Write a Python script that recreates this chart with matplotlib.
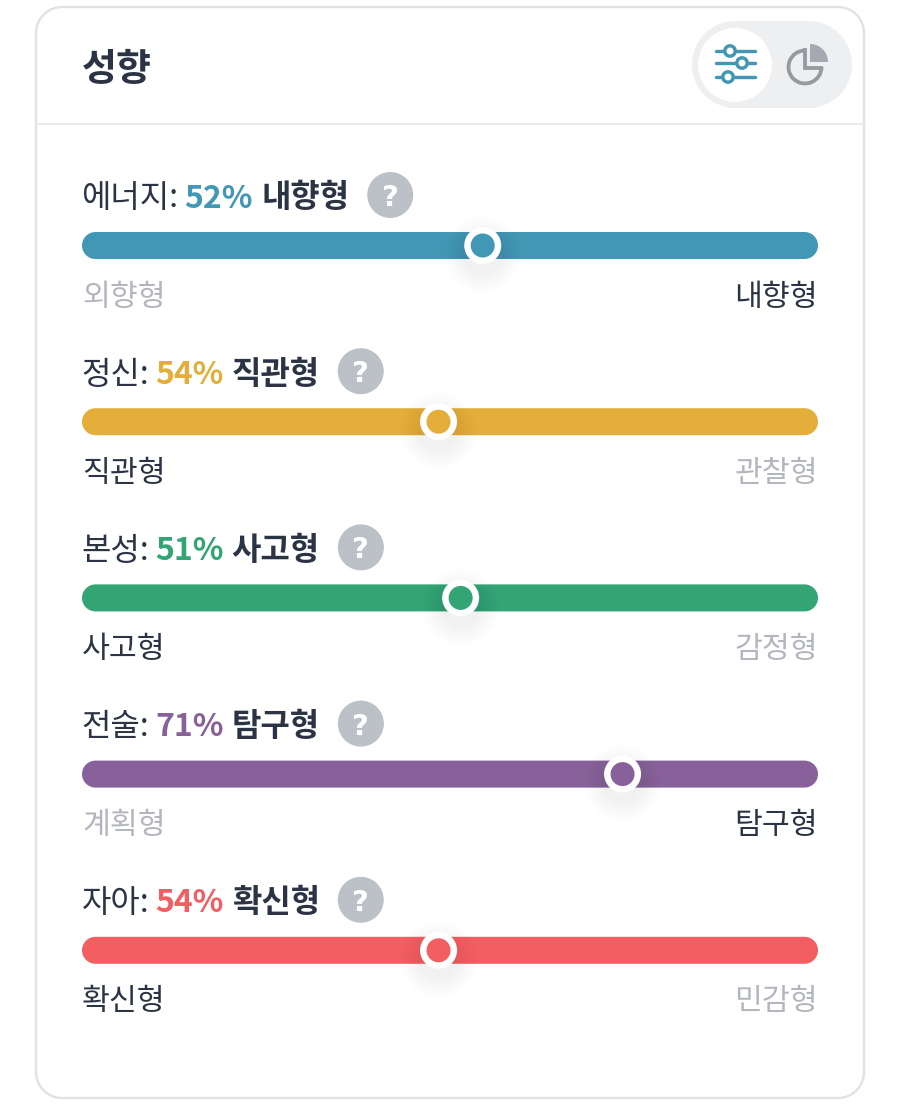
import matplotlib
matplotlib.use('Agg')
import matplotlib.pyplot as plt
import matplotlib.patches as mpatches
from matplotlib.path import Path

plt.rcParams['font.family'] = ['Noto Sans CJK KR', 'DejaVu Sans']

TITLE = '성향'
TRAITS = ['에너지', '정신', '본성', '전술', '자아']
PERCENTS = [52, 54, 51, 71, 54]
RESULTS = ['내향형', '직관형', '사고형', '탐구형', '확신형']
LEFT_POLES = ['외향형', '직관형', '사고형', '계획형', '확신형']
RIGHT_POLES = ['내향형', '관찰형', '감정형', '탐구형', '민감형']

COLORS = ['#4298b4', '#e4ae3a', '#33a474', '#88619a', '#f25e62']
DARK = '#2b3445'
GREY = '#b3b6be'
BORDER = '#e0e2e6'
PX = 0.72  # 1px in points at dpi 100

fig = plt.figure(figsize=(9, 11.11), dpi=100)
ax = fig.add_axes([0, 0, 1, 1])
ax.set_xlim(0, 900)
ax.set_ylim(1111, 0)
ax.axis('off')


def pill(x0, y0, x1, y1, r, **kw):
    """둥근 사각형 (베지어 4차로 원에 가깝게)"""
    k = r * (1 - 0.5523)
    verts = [(x0 + r, y0), (x1 - r, y0),
             (x1 - k, y0), (x1, y0 + k), (x1, y0 + r), (x1, y1 - r),
             (x1, y1 - k), (x1 - k, y1), (x1 - r, y1), (x0 + r, y1),
             (x0 + k, y1), (x0, y1 - k), (x0, y1 - r), (x0, y0 + r),
             (x0, y0 + k), (x0 + k, y0), (x0 + r, y0), (x0 + r, y0)]
    codes = [Path.MOVETO, Path.LINETO,
             Path.CURVE4, Path.CURVE4, Path.CURVE4, Path.LINETO,
             Path.CURVE4, Path.CURVE4, Path.CURVE4, Path.LINETO,
             Path.CURVE4, Path.CURVE4, Path.CURVE4, Path.LINETO,
             Path.CURVE4, Path.CURVE4, Path.CURVE4, Path.CLOSEPOLY]
    p = mpatches.PathPatch(Path(verts, codes), **kw)
    ax.add_patch(p)
    return p


def text_run(x, y, s, **kw):
    """글자를 이어서 그리고 끝 x 좌표를 돌려준다"""
    t = ax.text(x, y, s, va='center_baseline', ha='left', **kw)
    bb = t.get_window_extent(fig.canvas.get_renderer())
    return bb.x1


# ---- 카드 + 헤더 ----
pill(36, 7, 864, 1098, 26, facecolor='white', edgecolor=BORDER, linewidth=2.4 * PX)
ax.plot([36, 864], [123.5, 123.5], color='#e8e9ec', lw=2 * PX)
ax.text(82, 66, TITLE, fontsize=27.4, fontweight='bold', color=DARK,
        va='center_baseline', ha='left')

# ---- 토글 아이콘 ----
pill(692, 21, 852, 108, 43.5, facecolor='#eeeff1', edgecolor='none')
ax.add_patch(mpatches.Circle((735, 65), 37, facecolor='white', edgecolor='none'))
for ly, kx in [(51, 730), (63, 742), (77, 728)]:
    ax.plot([716, 755], [ly, ly], color=COLORS[0], lw=3.4 * PX, solid_capstyle='round')
    ax.add_patch(mpatches.Circle((kx, ly), 5.2, facecolor='white',
                                 edgecolor=COLORS[0], linewidth=3.4 * PX, zorder=3))
ax.add_patch(mpatches.Arc((805, 67), 33, 33, theta1=0, theta2=270, angle=0,
                          color='#96999f', lw=3.8 * PX))
ax.plot([805, 805, 821], [50, 68, 68], color='#96999f', lw=3.8 * PX, solid_joinstyle='miter')
ax.add_patch(mpatches.Wedge((810, 62), 18, 270, 360, facecolor='#a6a9b0', edgecolor='none'))

# ---- 성향 막대 ----
BAR_X0, BAR_X1 = 82, 818
THUMB_W = 36
for i, trait in enumerate(TRAITS):
    row = i * 176.2
    color = COLORS[i]
    pct = PERCENTS[i]
    left_on = RESULTS[i] == LEFT_POLES[i]

    # 제목 줄
    y = 195 + row
    x = text_run(81.5, y, trait + ':', fontsize=23, color=DARK)
    x = text_run(x + 6, y, '%d%%' % pct, fontsize=23, fontweight='bold', color=color)
    x = text_run(x + 8, y, RESULTS[i], fontsize=23, fontweight='bold', color=DARK)
    cx = x + 41
    ax.add_patch(mpatches.Circle((cx, y), 23, facecolor='#bcc0c7', edgecolor='none'))
    ax.text(cx, y, '?', fontsize=21, fontweight='bold', color='white',
            family='DejaVu Sans', ha='center', va='center_baseline')

    # 막대
    by = 245.5 + row
    pill(BAR_X0, by - 13.5, BAR_X1, by + 13.5, 13.5, facecolor=color, edgecolor='none')

    # 손잡이 (그림자 먼저) - 왼쪽 성향이면 위치가 100 - pct
    pos = 100 - pct if left_on else pct
    tx = BAR_X0 + (BAR_X1 - BAR_X0) * pos / 100 + THUMB_W / 2
    for r in range(38, 18, -3):
        ax.add_patch(mpatches.Circle((tx, by + 9), r, facecolor='black',
                                     edgecolor='none', alpha=0.007, zorder=2))
    ax.add_patch(mpatches.Circle((tx, by), 18.5, facecolor='white', edgecolor='none', zorder=3))
    ax.add_patch(mpatches.Circle((tx, by), 12, facecolor=color, edgecolor='none', zorder=4))

    # 양쪽 라벨
    ly = 293.6 + row
    ax.text(BAR_X0, ly, LEFT_POLES[i], fontsize=21.8, ha='left', va='center_baseline',
            color=DARK if left_on else GREY)
    ax.text(BAR_X1, ly, RIGHT_POLES[i], fontsize=21.8, ha='right', va='center_baseline',
            color=GREY if left_on else DARK)

fig.savefig('out.png', dpi=100)
plt.close(fig)
